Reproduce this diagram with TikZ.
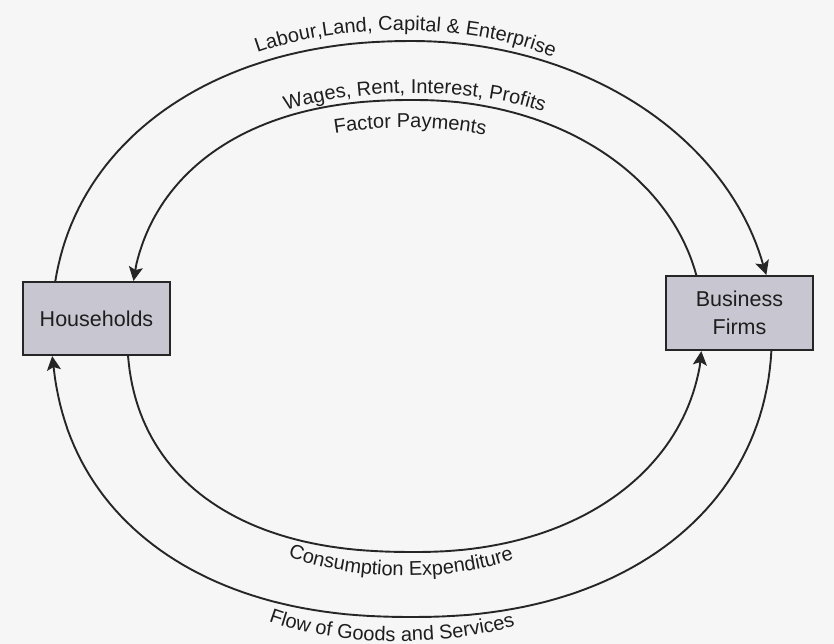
\documentclass[tikz,border=0pt]{standalone}
\usepackage{fontspec}
\setmainfont{Liberation Sans}
\usetikzlibrary{arrows.meta,decorations.text,calc}
\definecolor{bg}{HTML}{F6F6F6}
\definecolor{boxfill}{HTML}{C8C6D1}
\definecolor{ink}{HTML}{262626}
\definecolor{txt}{HTML}{1E1E1E}
\newcommand\lblfont{\fontsize{20}{20}\selectfont}
\begin{document}
\begin{tikzpicture}[x=1pt,y=-1pt,
  box/.style={draw=ink, line width=2.2pt, fill=boxfill, inner sep=0pt,
    font=\fontsize{21.5}{28}\selectfont, text=txt, align=center},
  flow/.style={draw=ink, line width=1.9pt, line join=round,
    -{Stealth[length=14pt,width=14pt,inset=3pt]}},
  lbl/.style={decorate, decoration={text along path, text align=center, text color=txt}}
]
\fill[bg] (0,0) rectangle (834,644);
\useasboundingbox (0,0) rectangle (834,644);

\node[box, minimum width=147pt, minimum height=73pt] (hh) at (96.5,318.5) {Households};
\node[box, minimum width=147pt, minimum height=74pt] (bf) at (739.5,313) {Business\\Firms};

% attachment points on the boxes
\coordinate (hhOT) at ($(hh.north west)!0.220!(hh.north east)$);
\coordinate (hhIT) at ($(hh.north west)!0.748!(hh.north east)$);
\coordinate (hhOB) at ($(hh.south west)!0.203!(hh.south east)$);
\coordinate (hhIB) at ($(hh.south west)!0.717!(hh.south east)$);
\coordinate (bfOT) at ($(bf.north west)!0.680!(bf.north east)$);
\coordinate (bfIT) at ($(bf.north west)!0.207!(bf.north east)$);
\coordinate (bfOB) at ($(bf.south west)!0.717!(bf.south east)$);
\coordinate (bfIB) at ($(bf.south west)!0.244!(bf.south east)$);

% outer top: factors of production (households -> firms)
\draw[flow] (hhOT)
  -- plot[domain=8.03:89.8, samples=50] ({412-360*abs(cos(\x))^0.930},{328-287*abs(sin(\x))^0.930})
  -- plot[domain=90.2:167.5, samples=50] ({412+360*abs(cos(\x))^1.0},{328-287*abs(sin(\x))^1.0})
  -- (bfOT);
% inner top: factor payments (firms -> households)
\draw[flow] (bfIT)
  -- plot[domain=12.3:89.8, samples=50] ({415+288*abs(cos(\x))^0.9756},{326-226*abs(sin(\x))^0.9756})
  -- plot[domain=90.2:167, samples=50] ({415-285*abs(cos(\x))^0.8696},{326-226*abs(sin(\x))^0.8696})
  -- (hhIT);
% outer bottom: goods and services (firms -> households)
\draw[flow] (bfOB)
  -- plot[domain=3.37:89.8, samples=50] ({412+360*abs(cos(\x))^0.909},{328+289*abs(sin(\x))^0.909})
  -- plot[domain=90.2:172, samples=50] ({412-360*abs(cos(\x))^0.889},{328+289*abs(sin(\x))^0.889})
  -- (hhOB);
% inner bottom: consumption expenditure (households -> firms)
\draw[flow] (hhIB)
  -- plot[domain=5.14:89.8, samples=50] ({415-288*abs(cos(\x))^0.851},{326+226*abs(sin(\x))^0.851})
  -- plot[domain=90.2:171, samples=50] ({415+288*abs(cos(\x))^0.930},{326+226*abs(sin(\x))^0.930})
  -- (bfIB);

% labels
\path[lbl, decoration={text={|\lblfont|Labour,Land, Capital {\&} Enterprise}}]
  (240,60) .. controls (330,20) and (480,20) .. (570,65);
\path[lbl, decoration={text={|\lblfont|Wages, Rent, Interest, Profits}}]
  (278,114) .. controls (350,86) and (480,86) .. (551,115);
\path[lbl, decoration={text={|\lblfont|Factor Payments}}]
  (325,135) .. controls (380,125) and (440,125) .. (495,137);
\path[lbl, decoration={text={|\lblfont|Consumption Expenditure}}]
  (280,553) .. controls (350,583) and (455,583) .. (522,556);
\path[lbl, decoration={text={|\lblfont|Flow of Goods and Services}}]
  (260,618) .. controls (330,648) and (450,648) .. (524,623);
\end{tikzpicture}
\end{document}
